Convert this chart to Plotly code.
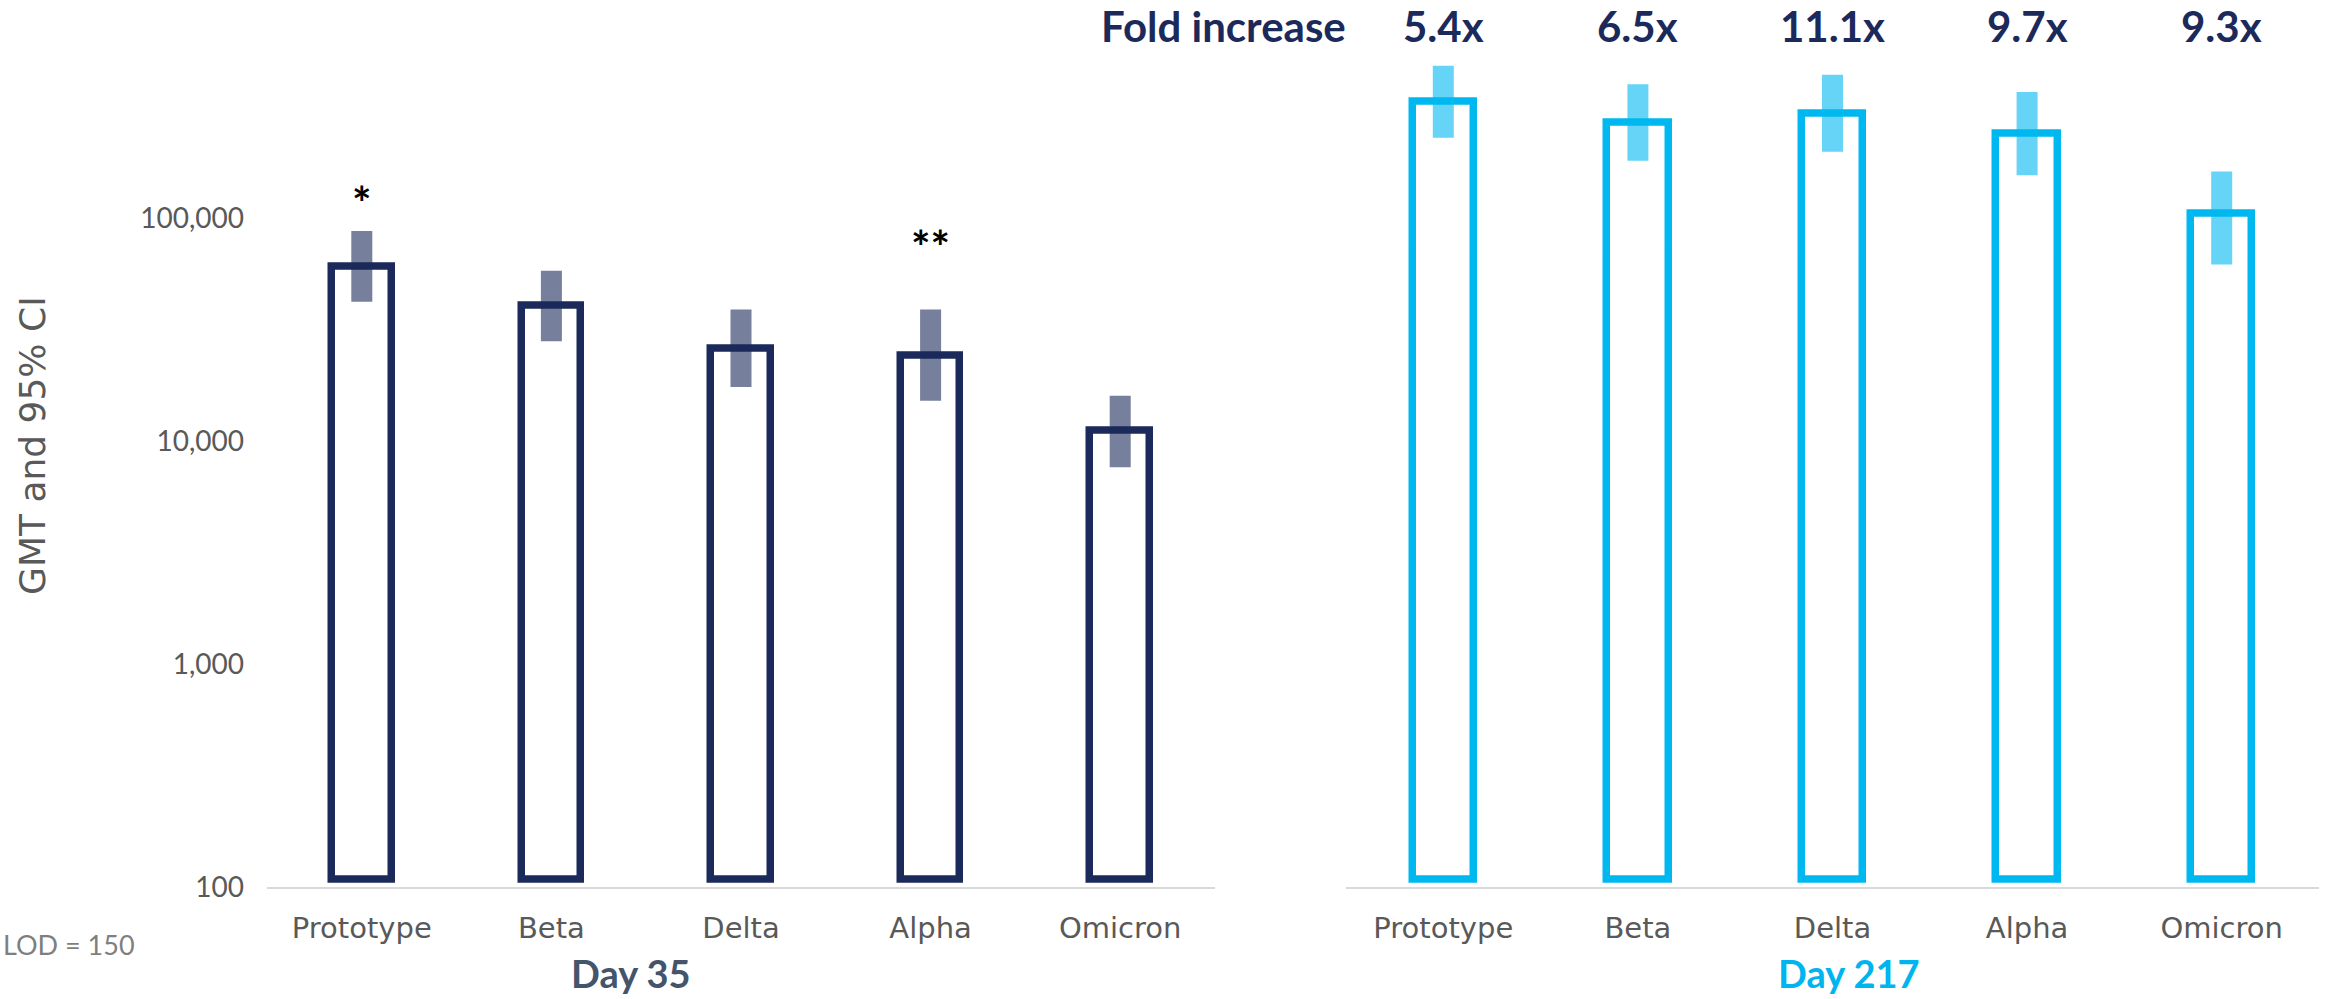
import plotly.graph_objects as go

# ---------------- data ----------------
CATEGORIES = ["Prototype", "Beta", "Delta", "Alpha", "Omicron"]

DAY35_GMT = [60800, 40400, 26100, 24200, 11100]
DAY35_LO = [42200, 28100, 17500, 15200, 7640]
DAY35_HI = [87700, 58100, 39000, 39000, 16000]

DAY217_GMT = [334000, 268000, 295000, 239000, 104900]
DAY217_LO = [230000, 181000, 199000, 156000, 62100]
DAY217_HI = [484000, 399000, 441000, 369000, 162000]

FOLD_INCREASE = [5.4, 6.5, 11.1, 9.7, 9.3]

Y_TICKVALS = [100, 1000, 10000, 100000]
Y_TICKTEXT = ["100", "1,000", "10,000", "100,000"]

SIGNIF_CATS = ["Prototype", "Alpha"]
SIGNIF_MARKS = ["*", "**"]

# ---------------- style ----------------
W, H = 2326, 999
NAVY = "#1b2a5a"
NAVY_CI = "rgba(27,42,90,0.6)"
CYAN = "#00b8f0"
CYAN_CI = "rgba(0,184,240,0.6)"
TICK_GRAY = "#595959"
AXIS_GRAY = "#d9d9d9"
BAR_BASE = 108
REG_FONT = "Lato"
CAT_FONT = "DejaVu Sans"
BOLD_FONT = "Lato"
SIGNIF_Y_PX = [203, 247]


def px_x(p):
    return p / W


def px_y(p):
    return (H - p) / H


fig = go.Figure()


def add_panel(xref, yref, gmt, lo, hi, line_color, ci_color):
    fig.add_trace(go.Bar(
        x=CATEGORIES,
        y=[g - BAR_BASE for g in gmt],
        base=BAR_BASE,
        width=0.315,
        marker=dict(color="white", line=dict(color=line_color, width=7.5)),
        xaxis=xref, yaxis=yref, showlegend=False, hoverinfo="skip",
    ))
    fig.add_trace(go.Scatter(
        x=CATEGORIES,
        y=gmt,
        mode="markers",
        marker=dict(color="rgba(0,0,0,0)", size=1),
        error_y=dict(
            type="data", symmetric=False,
            array=[h - g for h, g in zip(hi, gmt)],
            arrayminus=[g - l for g, l in zip(gmt, lo)],
            color=ci_color, thickness=21, width=0,
        ),
        xaxis=xref, yaxis=yref, showlegend=False, hoverinfo="skip",
    ))


add_panel("x", "y", DAY35_GMT, DAY35_LO, DAY35_HI, NAVY, NAVY_CI)
add_panel("x2", "y2", DAY217_GMT, DAY217_LO, DAY217_HI, CYAN, CYAN_CI)

y_dom = [px_y(887), px_y(17.7)]
y_range = [2, 5.9]

xaxis_common = dict(
    type="category", showgrid=False, zeroline=False, automargin=False,
    showline=True, linecolor=AXIS_GRAY, linewidth=2,
    ticks="", tickfont=dict(family=CAT_FONT, size=29, color=TICK_GRAY),
    ticklabelstandoff=14,
)

fig.update_layout(
    width=W, height=H,
    margin=dict(l=0, r=0, t=0, b=0, pad=0, autoexpand=False),
    paper_bgcolor="white", plot_bgcolor="white",
    bargap=0,
    xaxis=dict(domain=[px_x(267), px_x(1215)], anchor="y", **xaxis_common),
    xaxis2=dict(domain=[px_x(1346), px_x(2319)], anchor="y2", **xaxis_common),
    yaxis=dict(
        type="log", range=y_range, domain=y_dom, anchor="x", automargin=False,
        showgrid=False, zeroline=False, showline=False, ticks="",
        tickvals=Y_TICKVALS, ticktext=Y_TICKTEXT,
        tickfont=dict(family=REG_FONT, size=28, color=TICK_GRAY),
        ticklabelstandoff=22,
    ),
    yaxis2=dict(
        type="log", range=y_range, domain=y_dom, anchor="x2", automargin=False,
        showgrid=False, zeroline=False, showline=False, ticks="",
        showticklabels=False,
    ),
)

annotations = []

# y-axis title
annotations.append(dict(
    text="GMT and 95% CI", textangle=-90,
    x=px_x(32), y=px_y(446), xref="paper", yref="paper",
    xanchor="center", yanchor="middle", showarrow=False,
    font=dict(family=CAT_FONT, size=36, color=TICK_GRAY),
))

# LOD note
annotations.append(dict(
    text="LOD = 150", x=px_x(1), y=px_y(944), xref="paper", yref="paper",
    xanchor="left", yanchor="middle", showarrow=False,
    font=dict(family=REG_FONT, size=27, color="#7f7f7f"),
))

# panel titles
annotations.append(dict(
    text="Day 35", x=px_x(631), y=px_y(998), xref="paper", yref="paper",
    xanchor="center", yanchor="bottom", showarrow=False,
    font=dict(family=BOLD_FONT, size=38, color="#44546a", weight="bold"),
))
annotations.append(dict(
    text="Day 217", x=px_x(1849), y=px_y(998), xref="paper", yref="paper",
    xanchor="center", yanchor="bottom", showarrow=False,
    font=dict(family=BOLD_FONT, size=38, color="#00b5ef", weight="bold"),
))

# fold increase
annotations.append(dict(
    text="Fold increase", x=px_x(1348), y=px_y(26), xref="paper", yref="paper",
    xanchor="right", yanchor="middle", showarrow=False,
    font=dict(family=BOLD_FONT, size=42, color=NAVY, weight="bold"),
))
for cat, f in zip(CATEGORIES, FOLD_INCREASE):
    annotations.append(dict(
        text=f"{f}x", x=cat, xref="x2", y=px_y(26), yref="paper",
        xanchor="center", yanchor="middle", showarrow=False,
        font=dict(family=BOLD_FONT, size=42, color=NAVY, weight="bold"),
    ))

# significance markers
for cat, mark, ypx in zip(SIGNIF_CATS, SIGNIF_MARKS, SIGNIF_Y_PX):
    annotations.append(dict(
        text=mark, x=cat, xref="x", y=px_y(ypx), yref="paper",
        xanchor="center", yanchor="middle", showarrow=False,
        font=dict(family=BOLD_FONT, size=46, color="black", weight="bold"),
    ))

fig.update_layout(annotations=annotations)

fig.write_html("out.html")
